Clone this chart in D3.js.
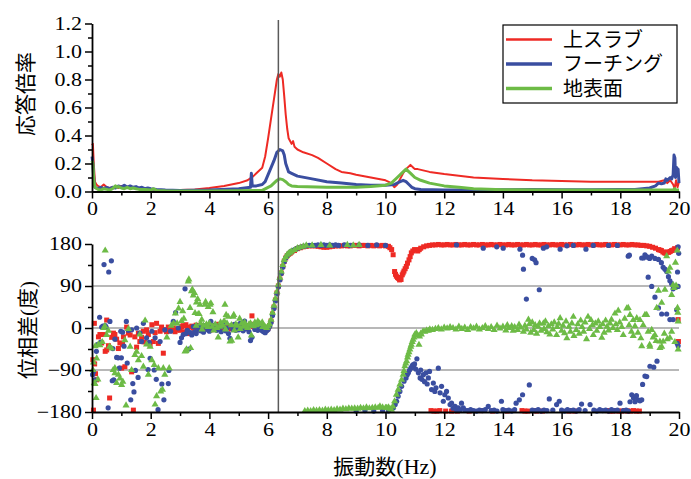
<!DOCTYPE html>
<html><head><meta charset="utf-8">
<script src="https://cdn.jsdelivr.net/npm/d3@7"></script>
<style>
html,body{margin:0;padding:0;background:#fff;}
svg{display:block;}
.tick text{font-family:"Liberation Serif","Times New Roman",serif;font-size:18px;fill:#000;}
</style></head>
<body>
<svg id="chart" width="691" height="479"></svg>
<script>
// ---------- data ----------
const seriesNames = ["上スラブ", "フーチング", "地表面"];
const seriesColors = ["#ee2a24", "#3a4ea0", "#6dbb46"];
const xTicks = [0, 2, 4, 6, 8, 10, 12, 14, 16, 18, 20];
const ampTicks = [0, 0.2, 0.4, 0.6, 0.8, 1.0, 1.2];
const phaseTicks = [-180, -90, 0, 90, 180];
const phaseGrid = [-90, 0, 90];
const resonanceHz = 6.35;

// 応答倍率 [Hz, ratio]
const slabAmp = [[0,0.33],[0.03,0.34],[0.06,0.2],[0.1,0.07],[0.15,0.05],[0.2,0.04],[0.3,0.03],[0.4,0.05],[0.5,0.03],[0.6,0.025],[0.7,0.03],[0.8,0.035],[0.9,0.025],[1.0,0.04],[1.1,0.03],[1.2,0.035],[1.3,0.025],[1.4,0.03],[1.5,0.025],[1.6,0.02],[1.8,0.02],[2.0,0.015],[2.2,0.012],[2.5,0.01],[3.0,0.01],[3.5,0.015],[4.0,0.025],[4.5,0.04],[5.0,0.06],[5.3,0.08],[5.5,0.11],[5.6,0.13],[5.7,0.15],[5.8,0.17],[5.9,0.25],[6.0,0.38],[6.1,0.52],[6.2,0.66],[6.3,0.8],[6.35,0.84],[6.4,0.82],[6.45,0.85],[6.5,0.8],[6.55,0.68],[6.6,0.55],[6.65,0.45],[6.7,0.38],[6.8,0.34],[6.85,0.36],[6.9,0.32],[7.0,0.3],[7.2,0.28],[7.5,0.26],[7.7,0.24],[8.0,0.2],[8.3,0.16],[8.5,0.14],[8.8,0.13],[9.0,0.12],[9.5,0.1],[10.0,0.08],[10.2,0.06],[10.3,0.03],[10.4,0.05],[10.5,0.09],[10.6,0.13],[10.7,0.16],[10.85,0.19],[10.95,0.17],[11.0,0.16],[11.1,0.16],[11.5,0.14],[12.0,0.125],[13.0,0.1],[14.0,0.09],[15.0,0.08],[16.0,0.075],[17.0,0.07],[18.0,0.07],[19.0,0.07],[19.3,0.07],[19.5,0.08],[19.6,0.06],[19.7,0.08],[19.8,0.05],[19.85,0.02],[19.9,0.08],[19.95,0.03],[20.0,0.07]];
const footingAmp = [[0,0.25],[0.03,0.2],[0.07,0.06],[0.1,0.03],[0.2,0.02],[0.3,0.03],[0.4,0.02],[0.5,0.03],[0.6,0.02],[0.7,0.03],[0.8,0.025],[0.9,0.04],[1.0,0.03],[1.1,0.045],[1.2,0.03],[1.3,0.04],[1.4,0.03],[1.5,0.035],[1.6,0.025],[1.7,0.03],[1.8,0.02],[1.9,0.025],[2.0,0.02],[2.2,0.015],[2.5,0.01],[3.0,0.008],[4.0,0.01],[5.0,0.02],[5.4,0.03],[5.43,0.13],[5.46,0.04],[5.6,0.04],[5.8,0.05],[5.9,0.07],[6.0,0.12],[6.1,0.17],[6.2,0.22],[6.3,0.28],[6.4,0.3],[6.5,0.29],[6.55,0.26],[6.6,0.2],[6.7,0.14],[6.8,0.13],[7.0,0.11],[7.5,0.09],[8.0,0.07],[8.5,0.06],[9.0,0.05],[9.5,0.045],[10.0,0.045],[10.3,0.05],[10.5,0.07],[10.6,0.08],[10.7,0.07],[10.8,0.05],[10.9,0.03],[11.0,0.02],[11.2,0.015],[12.0,0.01],[13.0,0.01],[14.0,0.012],[15.0,0.015],[16.0,0.012],[17.0,0.012],[18.0,0.015],[18.5,0.015],[19.0,0.025],[19.2,0.04],[19.3,0.06],[19.4,0.055],[19.5,0.06],[19.55,0.09],[19.6,0.08],[19.7,0.1],[19.75,0.09],[19.8,0.12],[19.83,0.26],[19.86,0.24],[19.88,0.1],[19.9,0.14],[19.93,0.17],[19.95,0.14],[19.97,0.16],[20.0,0.06]];
const groundAmp = [[0,0.22],[0.03,0.2],[0.06,0.08],[0.1,0.03],[0.2,0.015],[0.3,0.01],[0.4,0.02],[0.5,0.015],[0.6,0.01],[0.7,0.02],[0.8,0.04],[0.85,0.03],[0.9,0.035],[1.0,0.025],[1.1,0.02],[1.2,0.03],[1.3,0.02],[1.4,0.025],[1.5,0.02],[1.6,0.015],[1.8,0.015],[2.0,0.01],[2.1,0.02],[2.2,0.008],[2.5,0.005],[3.0,0.004],[4.0,0.004],[5.0,0.005],[5.8,0.008],[6.0,0.03],[6.1,0.04],[6.2,0.06],[6.3,0.08],[6.4,0.09],[6.5,0.085],[6.6,0.07],[6.7,0.05],[6.8,0.04],[7.0,0.035],[8.0,0.03],[9.0,0.03],[9.5,0.035],[10.0,0.045],[10.2,0.06],[10.4,0.1],[10.6,0.14],[10.7,0.16],[10.8,0.14],[10.9,0.12],[11.0,0.1],[11.2,0.08],[11.5,0.06],[12.0,0.04],[12.5,0.03],[13.0,0.02],[14.0,0.012],[16.0,0.01],[18.0,0.01],[19.0,0.01],[19.8,0.01],[19.85,0.02],[19.9,0.01],[20.0,0.01]];

// 位相差 [Hz, deg]
const slabPhase = [[0.03,-68],[0.05,-176],[0.08,10],[0.09,-77],[0.12,-98],[0.16,-111],[0.22,-19],[0.27,-14],[0.33,-32],[0.39,-14],[0.45,-50],[0.5,17],[0.5,-47],[0.56,-38],[0.6,-150],[0.67,-20],[0.73,-11],[0.78,-14],[0.84,-24],[0.9,-44],[0.95,-32],[1.01,-86],[1.04,-35],[1.07,-19],[1.12,-83],[1.18,2],[1.24,-11],[1.3,-15],[1.35,-94],[1.41,-176],[1.46,-19],[1.52,-41],[1.58,-11],[1.63,-29],[1.69,-20],[1.75,-7],[1.8,-30],[1.86,-4],[1.92,-14],[1.98,-35],[2.04,7],[2.09,-29],[2.15,-10],[2.2,10],[2.26,-33],[2.32,-7],[2.37,2],[2.43,-54],[2.48,-4],[2.54,-8],[2.6,2],[2.66,-6],[2.71,-4],[2.77,0],[2.83,-8],[2.88,-4],[2.94,-2],
[3.0,-5],[3.05,3],[3.1,5],[3.15,-8],[3.2,7],[3.25,-3],[3.3,-12],[3.35,2],[3.4,4],[3.45,0],[3.5,-4],[3.55,6],[3.6,-4],[3.65,3],[3.7,2],[3.75,-2],[3.8,5],[3.85,0],[3.9,0],[3.95,6],[4.0,2],[4.05,-4],[4.1,-3],[4.15,5],[4.2,4],[4.25,0],[4.3,8],[4.35,3],[4.4,2],[4.45,-3],[4.5,-2],[4.55,4],[4.6,5],[4.65,1],[4.7,0],[4.75,-2],[4.8,3],[4.85,6],[4.9,-2],[4.95,2],[5.0,4],[5.05,-1],[5.1,1],[5.15,3],[5.2,6],[5.25,0],[5.3,2],[5.35,5],[5.4,8],[5.45,26],[5.5,3],[5.55,1],[5.6,5],[5.65,2],[5.7,2],[5.75,6],[5.8,0],[5.85,-2],[5.9,-3],[5.95,-4],[6.0,0],
[6.05,5],[6.1,15],[6.15,30],[6.2,45],[6.25,60],[6.3,75],[6.35,90],[6.4,105],[6.45,118],[6.5,132],[6.55,143],[6.6,150],[6.65,155],[6.7,158],[6.75,160],[6.8,163],[6.9,166],[7.0,170],[7.1,172],[7.2,174],[7.3,175],[7.4,176],[7.5,176],[7.6,176],[7.7,175],[7.8,174],[7.9,173],[8.0,173],[8.1,174],[8.2,175],[8.3,176],[8.4,176],[8.5,176],[8.6,177],[8.7,176],[8.8,176],[8.9,177],[9.0,177],[9.1,176],[9.2,177],[9.3,177],[9.4,176],[9.5,177],[9.6,176],[9.7,177],[9.8,176],[9.9,177],[10.0,176],[10.1,175],[10.15,172],[10.21,168],[10.26,157],[10.31,121],[10.34,115],[10.37,111],[10.41,108],[10.45,106],[10.48,103],[10.5,108],[10.53,104],[10.57,114],[10.6,118],[10.63,122],[10.67,127],[10.71,132],[10.75,139],[10.8,146],[10.84,153],[10.88,161],[10.93,165],[10.99,168],[11.05,167],[11.1,165],[11.15,168],[11.2,171],[11.3,174],[11.4,176],[11.5,177],
[11.6,178],[11.7,178],[11.8,179],[11.9,178],[12.0,178],[12.1,179],[12.2,178],[12.3,178],[12.4,179],[12.5,178],[12.6,178],[12.7,179],[12.8,178],[12.9,178],[13.0,179],[13.1,178],[13.2,178],[13.3,179],[13.4,178],[13.5,178],[13.6,179],[13.7,178],[13.8,178],[13.9,179],[14.0,178],[14.1,178],[14.2,179],[14.3,178],[14.4,178],[14.5,179],[14.6,178],[14.7,178],[14.8,179],[14.9,178],[15.0,178],[15.1,179],[15.2,178],[15.3,178],[15.4,179],[15.5,178],[15.6,178],[15.7,179],[15.8,178],[15.9,178],[16.0,179],[16.1,178],[16.2,178],[16.3,179],[16.4,178],[16.5,178],[16.6,179],[16.7,178],[16.8,178],[16.9,179],[17.0,178],[17.1,178],[17.2,179],[17.3,178],[17.4,178],[17.5,179],[17.6,178],[17.7,178],[17.8,179],[17.9,178],[18.0,178],[18.1,179],[18.2,178],[18.3,178],[18.4,179],[18.5,178],[18.6,178],[18.7,177],
[11.55,-177],[11.65,-178],[11.75,-178],[11.85,-177],[12.05,-178],[12.25,-178],[12.35,-177],[12.45,-178],[12.85,-178],[13.25,-177],[13.65,-178],[14.15,-178],[14.65,-177],[14.75,-178],[14.85,-178],[15.05,-177],[15.15,-178],[15.35,-178],[16.25,-178],[16.35,-177],[16.45,-178],[17.55,-177],[17.65,-178],[17.75,-178],[17.85,-177],[17.95,-178],[18.05,-178],[18.15,-177],[18.25,-178],[18.35,-178],[18.45,-177],[18.55,-178],[18.65,-178],
[18.8,177],[18.9,176],[19.0,175],[19.1,173],[19.2,171],[19.3,168],[19.35,167],[19.4,166],[19.45,163],[19.5,161],[19.55,160],[19.6,163],[19.65,162],[19.7,164],[19.75,166],[19.8,167],[19.85,170],[19.9,168],[19.95,172],[19.97,18],[19.98,-29]];

const footingPhase = [[0.02,-100],[0.05,-94],[0.11,-111],[0.15,-50],[0.2,-35],[0.26,23],[0.3,-30],[0.33,2],[0.37,4],[0.41,136],[0.45,5],[0.48,2],[0.55,-171],[0.57,120],[0.61,14],[0.66,144],[0.69,-113],[0.71,-44],[0.74,-111],[0.78,-24],[0.84,-63],[0.89,-64],[0.93,-86],[0.98,-7],[1.0,-64],[1.04,-9],[1.09,-39],[1.17,14],[1.2,-75],[1.24,-5],[1.32,-154],[1.35,-4],[1.39,-119],[1.43,-137],[1.48,-91],[1.52,0],[1.57,-106],[1.63,-11],[1.69,-29],[1.75,10],[1.86,-21],[1.91,-89],[1.95,-31],[1.98,-65],[2.04,-7],[2.12,-90],[2.15,-21],[2.19,-110],[2.25,-175],[2.32,-29],[2.38,-120],[2.45,-154],[2.48,-4],[2.6,-119],[2.62,-91],[2.68,-7],[2.77,14],[2.85,33],[2.94,0],[3.0,-31],[3.05,-21],[3.11,-14],
[3.17,84],[3.2,-12],[3.25,-5],[3.3,-45],[3.35,-10],[3.4,-15],[3.45,3],[3.5,-8],[3.55,-12],[3.6,-4],[3.65,5],[3.7,-6],[3.75,-2],[3.8,-9],[3.85,5],[3.9,2],[3.95,-4],[4.0,-7],[4.05,14],[4.1,3],[4.15,-2],[4.2,6],[4.25,-5],[4.3,0],[4.35,2],[4.4,-8],[4.45,4],[4.5,10],[4.55,-6],[4.6,0],[4.65,-12],[4.7,-22],[4.75,5],[4.8,-3],[4.85,8],[4.9,-5],[4.95,2],[5.0,-4],[5.05,10],[5.1,0],[5.15,-6],[5.2,15],[5.25,-2],[5.3,4],[5.35,-8],[5.4,-27],[5.45,-20],[5.5,6],[5.55,-3],[5.6,2],[5.65,-5],[5.7,4],[5.75,0],[5.8,-6],[5.85,-8],[5.9,-10],[5.95,-6],[6.0,-3],
[6.05,3],[6.1,12],[6.15,27],[6.2,42],[6.25,58],[6.3,73],[6.35,88],[6.4,103],[6.45,117],[6.5,130],[6.55,142],[6.6,150],[6.65,155],[6.7,159],[6.75,162],[6.8,165],[6.9,168],[7.0,171],[7.1,173],[7.2,175],[7.3,176],[7.4,177],[7.5,177],[7.6,177],[7.7,178],[7.8,177],[7.9,178],[8.0,177],[8.1,178],[8.2,177],[8.3,178],[8.4,177],[8.6,178],[8.8,177],[9.1,178],[9.4,177],[9.7,178],[10.0,177],
[9.0,-178],[9.3,-177],[9.6,-178],[9.9,-177],[10.1,-178],
[10.27,-171],[10.33,-164],[10.38,-157],[10.43,-146],[10.49,-136],[10.55,-125],[10.63,-114],[10.7,-107],[10.74,-100],[10.78,-96],[10.82,-90],[10.86,-86],[10.9,-82],[10.93,-79],[10.96,-84],[10.99,-77],[11.03,-88],[11.07,-66],[11.12,-96],[11.18,-107],[11.2,-90],[11.24,-110],[11.29,-100],[11.33,-115],[11.38,-96],[11.42,-120],[11.46,-107],[11.5,-93],[11.57,-132],[11.63,-118],[11.68,-136],[11.72,-128],[11.8,-86],[11.86,-139],[11.91,-125],[11.97,-157],[12.02,-143],[12.08,-136],[12.14,-150],[12.2,-164],[12.25,-161],[12.3,-172],[12.37,-168],[12.42,-175],[12.48,-171],[12.53,-176],[12.59,-161],[12.65,-171],
[12.7,-176],[12.8,-177],[12.9,-175],[13.0,-177],[13.1,-178],[13.2,-176],[13.3,-177],[13.4,-175],[13.5,-168],[13.6,-177],[13.7,-176],[13.8,-178],[13.95,-157],[14.0,-175],[14.1,-177],[14.2,-176],[14.3,-178],[14.4,-175],[14.45,-161],[14.56,-154],[14.67,-143],[14.9,-122],[15.0,-176],[15.1,-177],[15.2,-175],[15.3,-178],[15.4,-176],[15.5,-177],[15.58,-152],[15.7,-176],[15.83,-164],[15.92,-157],[16.0,-176],[16.1,-178],[16.2,-175],[16.3,-177],[16.4,-176],[16.5,-178],[16.6,-175],[16.68,-163],[16.8,-177],[16.97,-164],[17.1,-176],[17.2,-178],[17.3,-175],[17.4,-177],[17.5,-176],[17.6,-178],[17.7,-175],[17.8,-177],[17.9,-176],[17.99,-161],[18.1,-177],[18.2,-176],[18.27,-178],
[12.42,178],[13.33,171],[13.79,174],[14.01,171],[14.58,169],[14.67,156],[14.7,126],[14.8,62],[15.0,149],[15.08,146],[15.13,140],[15.24,82],[15.38,171],[15.49,174],[15.95,169],[16.18,176],[16.4,177],[16.83,169],[17.08,177],[17.6,177],[17.9,177],[18.27,154],[18.31,156],
[18.33,-158],[18.39,-143],[18.45,-150],[18.5,-158],[18.55,-145],[18.6,-154],[18.67,-156],[18.73,-154],[18.76,-121],[18.84,-103],[18.9,-104],[19.01,-82],[19.14,-84],[19.25,-71],
[18.73,150],[18.79,150],[18.84,157],[18.9,153],[18.95,151],[19.0,149],[19.07,154],[19.18,149],[19.3,147],[19.4,140],[19.46,130],[19.52,126],[19.58,121],[19.64,110],[19.69,101],[19.75,95],[19.8,84],[19.86,88],[19.9,88],[19.95,120],[19.97,174],[19.99,160],
[18.95,109],[19.07,89],[19.18,66],[19.3,43],[19.41,30],[19.58,30],[19.69,18],[19.8,18],[19.92,39],[19.97,89],[19.97,-38],[19.94,-33]];

const groundPhase = [[0.03,-90],[0.05,-74],[0.08,-118],[0.1,-120],[0.11,-39],[0.14,-150],[0.16,-65],[0.2,-110],[0.22,-35],[0.27,-37],[0.35,-30],[0.4,0],[0.44,4],[0.45,166],[0.5,-15],[0.56,-6],[0.6,-40],[0.67,-44],[0.72,-90],[0.78,-86],[0.78,-97],[0.84,-118],[0.9,-100],[0.95,-108],[1.01,-122],[1.05,-115],[1.12,-26],[1.16,-166],[1.24,-2],[1.3,-40],[1.35,-90],[1.46,-58],[1.52,-51],[1.58,-69],[1.63,-14],[1.69,-60],[1.75,-83],[1.81,16],[1.86,-35],[1.92,-100],[1.98,-40],[2.04,-69],[2.12,-79],[2.15,-164],[2.2,-146],[2.26,-86],[2.34,-136],[2.4,-132],[2.43,-86],[2.48,-100],[2.55,-20],[2.63,-86],[2.7,5],[2.78,10],[2.84,31],[2.9,10],[2.95,42],[3.0,56],[3.05,15],[3.09,36],[3.13,20],[3.17,-50],[3.2,-49],[3.22,-46],[3.28,100],[3.3,104],[3.34,43],[3.36,-43],[3.39,79],[3.42,82],[3.45,70],[3.49,75],[3.51,32],[3.55,5],[3.56,55],[3.6,62],[3.62,30],[3.65,30],[3.68,50],[3.7,10],[3.74,18],[3.75,-3],[3.8,5],[3.85,50],[3.87,56],[3.9,8],[3.95,2],[3.96,45],[4.0,10],[4.02,50],[4.05,53],[4.1,3],[4.12,34],[4.15,-5],[4.2,8],[4.25,0],[4.3,-20],[4.35,3],[4.38,12],[4.45,5],[4.5,15],[4.53,50],[4.55,-3],[4.57,28],[4.6,10],[4.64,24],[4.7,-29],[4.75,6],[4.76,-27],[4.81,24],[4.83,28],[4.85,-5],[4.9,8],[4.95,5],[4.98,-20],[5.03,20],[5.05,-2],[5.1,10],[5.15,3],[5.2,12],[5.25,5],[5.3,0],[5.35,8],[5.4,10],[5.43,-16],[5.45,5],[5.5,4],[5.55,12],[5.6,6],[5.65,14],[5.7,10],[5.75,8],[5.8,12],[5.82,2],[5.85,5],[5.9,2],[5.95,0],[6.0,4],
[6.05,8],[6.1,18],[6.15,33],[6.2,48],[6.25,63],[6.3,78],[6.35,93],[6.4,108],[6.45,121],[6.5,135],[6.55,146],[6.6,152],[6.65,157],[6.7,160],[6.75,162],[6.8,164],[6.9,167],[7.0,171],[7.1,173],[7.2,175],[7.3,177],[7.5,177],[7.8,178],[8.1,177],[8.7,178],[8.9,177],[9.1,178],
[7.25,-178],[7.35,-177],[7.45,-178],[7.55,-176],[7.65,-177],[7.75,-176],[7.85,-177],[7.95,-175],[8.05,-176],[8.15,-175],[8.25,-176],[8.35,-174],[8.45,-175],[8.55,-173],[8.65,-174],[8.75,-172],[8.85,-173],[8.95,-172],[9.05,-173],[9.15,-171],[9.25,-172],[9.35,-170],[9.45,-172],[9.55,-171],[9.65,-170],[9.75,-171],[9.81,-168],[9.9,-170],[10.0,-171],[10.04,-171],[10.1,-170],[10.15,-173],
[10.2,-175],[10.25,-168],[10.31,-157],[10.37,-143],[10.43,-132],[10.49,-121],[10.55,-111],[10.6,-100],[10.63,-92],[10.66,-82],[10.69,-76],[10.72,-71],[10.75,-63],[10.77,-57],[10.8,-52],[10.83,-46],[10.86,-40],[10.88,-36],[10.91,-30],[10.94,-25],[10.97,-20],[11.0,-14],[11.05,-11],[11.1,-16],[11.14,-36],[11.16,-18],[11.2,-12],[11.22,-14],[11.28,-7],[11.34,-8],[11.4,-5],[11.46,-6],[11.51,-3],
[11.6,-4],[11.7,-2],[11.8,0],[11.9,-3],[12.0,1],[12.1,-1],[12.2,2],[12.3,0],[12.4,-3],[12.5,3],[12.6,-2],[12.7,1],[12.8,-4],[12.9,2],[13.0,-1],[13.1,3],[13.2,-3],[13.3,0],[13.4,4],[13.5,-2],[13.6,2],[13.7,-4],[13.8,5],[13.9,-1],[14.0,3],[14.1,-5],[14.15,6],[14.2,0],[14.3,4],[14.35,-6],[14.4,2],[14.5,-4],[14.55,7],[14.6,1],[14.7,-8],[14.75,5],[14.8,-3],[14.87,18],[14.9,8],[14.95,-10],[15.0,12],[15.05,-4],[15.1,6],[15.15,-12],[15.2,3],[15.25,10],[15.3,-6],[15.38,10],[15.4,-2],[15.45,14],[15.5,-9],[15.55,4],[15.6,-14],[15.65,8],[15.7,-3],[15.75,12],[15.83,-15],[15.85,2],[15.9,9],[15.95,21],[16.0,-6],[16.05,5],[16.1,-11],[16.15,14],[16.18,-22],[16.25,3],[16.3,-8],[16.35,10],[16.4,24],[16.42,-17],[16.5,-4],[16.55,8],[16.6,-12],[16.65,16],[16.7,2],[16.75,-8],[16.8,12],[16.85,-24],[16.9,24],[16.95,-2],[17.0,17],[17.05,6],[17.08,-15],[17.15,10],[17.2,-6],[17.25,14],[17.3,2],[17.37,-21],[17.4,8],[17.45,-10],[17.5,16],[17.55,3],[17.6,-5],[17.65,10],[17.7,18],[17.75,0],[17.82,31],[17.85,8],[17.9,-4],[17.93,37],[17.98,12],[18.05,2],[18.1,-15],[18.15,20],[18.22,42],[18.27,43],[18.3,6],[18.33,28],[18.38,-8],[18.44,17],[18.44,-17],[18.5,4],[18.56,21],[18.6,-10],[18.67,17],[18.7,-22],[18.73,-39],[18.78,6],[18.84,28],[18.9,28],[18.95,-8],[19.0,-36],[19.01,-40],[19.07,-4],[19.12,-20],[19.18,-15],[19.22,-28],[19.35,-29],[19.35,-43],[19.41,-40],[19.46,-29],[19.5,-12],[19.6,-24],[19.69,-21],[19.75,-8],[19.86,-30],[19.97,-46],
[19.24,43],[19.3,80],[19.41,54],[19.52,82],[19.58,154],[19.64,121],[19.69,129],[19.75,71],[19.8,92],[19.83,86],[19.88,140],[19.9,91],[19.94,166],[19.95,43],[19.96,33],[19.97,14]];

// ---------- layout ----------
const svg = d3.select("#chart");
const x = d3.scaleLinear().domain([0, 20]).range([92, 679]);
const yAmp = d3.scaleLinear().domain([0, 1.2]).range([191.5, 23.5]);
const yPh = d3.scaleLinear().domain([-180, 180]).range([412, 244]);
const serif = '"Liberation Serif","Times New Roman",serif';
const cjk = '"Noto Sans CJK JP","Noto Sans CJK SC",sans-serif';

function styleAxis(g, side) {
  g.select(".domain").attr("stroke", "#000").attr("stroke-width", 1.8);
  g.selectAll(".tick line").attr("stroke", "#000").attr("stroke-width", 1.5);
  g.selectAll(".tick text").attr("font-family", serif).attr("font-size", 18)
    .attr("transform", "scale(1.22,1)");
  if (side === "left") g.selectAll(".tick text").attr("x", -10 / 1.22);
}
function minorTicks(g) {
  g.select(".domain").remove();
  g.selectAll("line").attr("stroke", "#000").attr("stroke-width", 1.5);
}

// phase gridlines
svg.append("g").selectAll("line").data(phaseGrid).join("line")
  .attr("x1", x(0)).attr("x2", x(20))
  .attr("y1", d => yPh(d)).attr("y2", d => yPh(d))
  .attr("stroke", "#a0a0a0").attr("stroke-width", 1.3);

// ---------- top panel: amplitude lines ----------
const line = d3.line().x(d => x(d[0])).y(d => yAmp(d[1]));
const ampSeries = [slabAmp, footingAmp, groundAmp];
const ampWidths = [2, 3, 3];
ampSeries.forEach((s, i) => {
  svg.append("path").datum(s).attr("d", line)
    .attr("fill", "none").attr("stroke", seriesColors[i])
    .attr("stroke-width", ampWidths[i]).attr("stroke-linejoin", "round");
});

// ---------- bottom panel: phase markers ----------
const gP = svg.append("g");
gP.append("g").selectAll("rect").data(slabPhase).join("rect")
  .attr("x", d => x(d[0]) - 2.5).attr("y", d => yPh(d[1]) - 2.5)
  .attr("width", 5).attr("height", 5).attr("fill", seriesColors[0]);
gP.append("g").selectAll("circle").data(footingPhase).join("circle")
  .attr("cx", d => x(d[0])).attr("cy", d => yPh(d[1])).attr("r", 2.6)
  .attr("fill", seriesColors[1]);
const tri = d3.symbol().type(d3.symbolTriangle).size(22);
gP.append("g").selectAll("path").data(groundPhase).join("path")
  .attr("d", tri).attr("transform", d => `translate(${x(d[0])},${yPh(d[1])})`)
  .attr("fill", seriesColors[2]);

// resonance line
svg.append("line").attr("x1", x(resonanceHz)).attr("x2", x(resonanceHz))
  .attr("y1", 20).attr("y2", yPh(-180))
  .attr("stroke", "#5a5a5a").attr("stroke-width", 1.5);

// ---------- axes ----------
svg.append("g").attr("transform", `translate(0,${yAmp(0)})`)
  .call(d3.axisBottom(x).tickValues(d3.range(1, 20, 2)).tickSize(4).tickSizeOuter(0).tickFormat(""))
  .call(minorTicks);
svg.append("g").attr("transform", `translate(0,${yAmp(0)})`)
  .call(d3.axisBottom(x).tickValues(xTicks).tickSize(7).tickSizeOuter(0).tickPadding(4).tickFormat(d3.format("d")))
  .call(g => styleAxis(g, "bottom"));
svg.append("g").attr("transform", `translate(${x(0)},0)`)
  .call(d3.axisLeft(yAmp).tickValues([0.1, 0.3, 0.5, 0.7, 0.9, 1.1]).tickSize(4).tickFormat(""))
  .call(minorTicks);
svg.append("g").attr("transform", `translate(${x(0)},0)`)
  .call(d3.axisLeft(yAmp).tickValues(ampTicks).tickSize(7).tickSizeOuter(0).tickFormat(d3.format(".1f")))
  .call(g => styleAxis(g, "left"));
svg.append("g").attr("transform", `translate(0,${yPh(-180)})`)
  .call(d3.axisBottom(x).tickValues(d3.range(1, 20, 2)).tickSize(4).tickSizeOuter(0).tickFormat(""))
  .call(minorTicks);
svg.append("g").attr("transform", `translate(0,${yPh(-180)})`)
  .call(d3.axisBottom(x).tickValues(xTicks).tickSize(7).tickSizeOuter(0).tickPadding(4).tickFormat(d3.format("d")))
  .call(g => styleAxis(g, "bottom"));
svg.append("g").attr("transform", `translate(${x(0)},0)`)
  .call(d3.axisLeft(yPh).tickValues([-135, -45, 45, 135]).tickSize(4).tickFormat(""))
  .call(minorTicks);
svg.append("g").attr("transform", `translate(${x(0)},0)`)
  .call(d3.axisLeft(yPh).tickValues(phaseTicks).tickSize(7).tickSizeOuter(0).tickFormat(d3.format("d")))
  .call(g => styleAxis(g, "left"));

// ---------- titles ----------
svg.append("text").attr("transform", `translate(33,94) rotate(-90)`)
  .attr("text-anchor", "middle").attr("font-family", cjk).attr("font-size", 21)
  .attr("fill", "#000").text("応答倍率");
const t2 = svg.append("text").attr("transform", `translate(35,330) rotate(-90)`)
  .attr("text-anchor", "middle").attr("font-family", cjk).attr("font-size", 21).attr("fill", "#000");
t2.append("tspan").text("位相差");
t2.append("tspan").attr("font-family", serif).text("(");
t2.append("tspan").text("度");
t2.append("tspan").attr("font-family", serif).text(")");
const t3 = svg.append("text").attr("x", 385).attr("y", 474)
  .attr("text-anchor", "middle").attr("font-family", cjk).attr("font-size", 21).attr("fill", "#000");
t3.append("tspan").text("振動数");
t3.append("tspan").attr("font-family", serif).attr("font-size", 22).text("(Hz)");

// ---------- legend ----------
const lg = svg.append("g");
lg.append("rect").attr("x", 503).attr("y", 25).attr("width", 174).attr("height", 78)
  .attr("fill", "#fff").attr("stroke", "#000").attr("stroke-width", 1.2);
const legendW = [2.5, 3.5, 3.5];
seriesNames.forEach((n, i) => {
  const yy = 39.5 + i * 24.5;
  lg.append("line").attr("x1", 506).attr("x2", 552).attr("y1", yy).attr("y2", yy)
    .attr("stroke", seriesColors[i]).attr("stroke-width", legendW[i]);
  lg.append("text").attr("x", 563).attr("y", yy).attr("dy", "0.36em")
    .attr("font-family", cjk).attr("font-size", 20).attr("fill", "#000").text(n);
});
</script>
</body></html>
